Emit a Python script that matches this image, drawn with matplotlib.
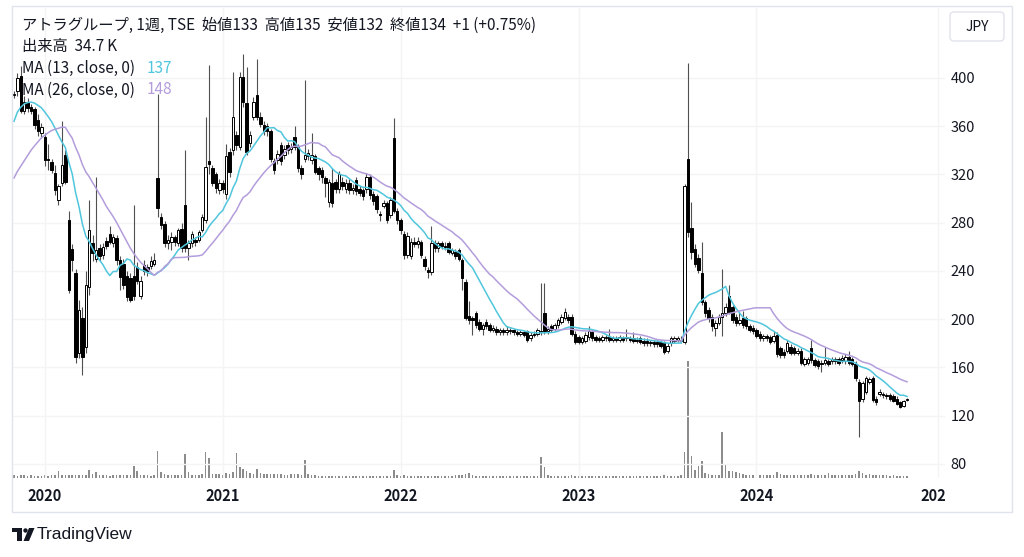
import numpy as np
import pandas as pd
import matplotlib
matplotlib.use('Agg')
import matplotlib.pyplot as plt
import matplotlib.dates as mdates
from matplotlib.patches import Rectangle, FancyBboxPatch, Circle, Polygon
from matplotlib.transforms import IdentityTransform, Bbox, TransformedBbox

plt.rcParams['font.family'] = ['Noto Sans CJK JP', 'DejaVu Sans']

W, H = 1024, 557

# weekly candles, 2019-11-04 .. 2024-11-04
opens = [
    386, 389, 402, 373, 380, 376, 374, 365, 354, 351,
    333, 330, 321, 299, 313, 336, 282, 258, 238, 172,
    201, 177, 227, 263, 250, 259, 253, 265, 271, 263,
    267, 249, 246, 236, 234, 236, 243, 219, 245, 243,
    244, 246, 317, 285, 279, 263, 264, 268, 263, 275,
    295, 259, 263, 266, 266, 274, 282, 331, 325, 320,
    307, 313, 304, 339, 340, 353, 343, 401, 379, 346,
    368, 386, 368, 361, 360, 356, 331, 332, 344, 336,
    344, 341, 351, 343, 325, 333, 335, 332, 335, 325,
    324, 317, 297, 313, 314, 308, 314, 308, 313, 307,
    315, 308, 307, 308, 318, 304, 302, 287, 294, 296,
    286, 350, 290, 282, 271, 253, 252, 264, 262, 264,
    250, 241, 239, 263, 259, 263, 261, 263, 255, 256,
    257, 249, 231, 203, 201, 205, 198, 192, 198, 195,
    191, 192, 189, 191, 189, 191, 191, 189, 188, 189,
    190, 184, 187, 188, 189, 205, 190, 194, 192, 195,
    198, 201, 202, 202, 188, 185, 181, 182, 185, 189,
    185, 184, 183, 184, 185, 183, 184, 183, 184, 184,
    184, 184, 182, 184, 182, 182, 181, 181, 181, 181,
    181, 174, 180, 182, 183, 182, 181, 333, 276, 258,
    251, 238, 214, 208, 202, 193, 197, 202, 205, 219,
    210, 202, 197, 201, 201, 194, 193, 191, 188, 184,
    186, 185, 182, 187, 176, 173, 174, 177, 176, 172,
    174, 163, 164, 176, 166, 165, 164, 164, 165, 165,
    167, 167, 166, 165, 169, 167, 163, 148, 134, 140,
    148, 151, 134, 138, 138, 137, 137, 136, 134, 131,
    128, 133,
]
highs = [
    389, 404, 410, 385, 383, 378, 376, 370, 363, 354,
    345, 333, 328, 312, 364, 340, 290, 262, 242, 216,
    210, 240, 299, 270, 318, 262, 263, 268, 277, 271,
    270, 252, 250, 240, 238, 295, 247, 236, 249, 246,
    252, 255, 387, 288, 281, 270, 272, 270, 276, 280,
    340, 266, 273, 268, 274, 287, 368, 411, 328, 322,
    316, 315, 345, 342, 405, 356, 405, 420, 409, 356,
    384, 416, 372, 364, 363, 358, 334, 340, 347, 344,
    347, 346, 360, 345, 328, 398, 341, 354, 337, 327,
    326, 319, 316, 325, 316, 323, 318, 316, 316, 312,
    318, 310, 309, 321, 320, 306, 304, 290, 299, 298,
    301, 367, 292, 284, 273, 272, 267, 268, 268, 266,
    252, 243, 277, 266, 265, 265, 264, 265, 259, 258,
    259, 251, 233, 215, 203, 207, 200, 197, 200, 197,
    195, 194, 193, 193, 194, 193, 192, 191, 191, 190,
    191, 189, 190, 193, 230, 230, 194, 196, 197, 201,
    204, 209, 204, 204, 190, 187, 186, 189, 194, 191,
    187, 186, 187, 187, 192, 186, 186, 187, 186, 192,
    186, 189, 185, 186, 184, 184, 183, 183, 183, 183,
    182, 180, 186, 186, 186, 186, 312, 412, 297, 262,
    254, 264, 216, 210, 204, 199, 204, 242, 213, 228,
    212, 204, 206, 207, 203, 196, 195, 193, 190, 188,
    188, 187, 190, 189, 178, 175, 183, 179, 178, 176,
    176, 169, 169, 183, 168, 167, 166, 177, 167, 169,
    169, 169, 170, 171, 174, 169, 165, 150, 149, 153,
    152, 153, 136, 142, 140, 139, 139, 138, 136, 132,
    133, 135,
]
lows = [
    383, 385, 371, 370, 372, 370, 358, 352, 350, 327,
    324, 321, 303, 295, 310, 312, 222, 240, 164, 168,
    154, 172, 220, 248, 247, 248, 250, 258, 262, 260,
    245, 224, 225, 215, 214, 216, 229, 217, 237, 236,
    242, 244, 285, 275, 260, 258, 257, 261, 261, 256,
    256, 249, 260, 261, 264, 272, 280, 320, 310, 305,
    304, 305, 300, 318, 336, 340, 340, 376, 336, 343,
    365, 365, 359, 353, 352, 330, 320, 329, 328, 333,
    337, 338, 340, 322, 316, 330, 332, 329, 320, 315,
    313, 301, 293, 293, 305, 305, 307, 305, 304, 304,
    303, 302, 299, 305, 300, 295, 288, 281, 292, 280,
    284, 288, 279, 271, 250, 251, 250, 260, 259, 251,
    241, 234, 237, 256, 256, 258, 257, 254, 253, 250,
    248, 224, 199, 196, 187, 193, 190, 187, 192, 189,
    189, 187, 187, 187, 187, 188, 187, 186, 186, 185,
    181, 182, 185, 186, 187, 188, 188, 189, 190, 193,
    196, 199, 197, 186, 179, 179, 179, 180, 183, 182,
    181, 181, 181, 182, 181, 181, 181, 181, 181, 182,
    181, 180, 180, 179, 178, 178, 178, 177, 177, 176,
    171, 172, 178, 180, 181, 180, 179, 268, 250, 243,
    238, 212, 202, 198, 190, 186, 195, 186, 203, 204,
    197, 194, 195, 193, 192, 189, 188, 184, 182, 182,
    182, 179, 180, 169, 168, 168, 172, 170, 170, 170,
    162, 161, 162, 164, 160, 159, 156, 162, 161, 163,
    163, 162, 164, 163, 162, 161, 149, 102, 131, 138,
    146, 131, 129, 136, 135, 134, 132, 131, 129, 126,
    127, 132,
]
closes = [
    386, 400, 373, 380, 375, 373, 361, 356, 359, 332,
    332, 324, 307, 310, 328, 314, 224, 249, 169, 208,
    169, 228, 274, 255, 257, 252, 260, 261, 264, 268,
    249, 235, 228, 218, 216, 219, 232, 232, 240, 240,
    248, 249, 292, 278, 263, 266, 268, 264, 274, 259,
    259, 263, 271, 264, 272, 285, 326, 329, 313, 309,
    313, 308, 335, 322, 368, 344, 401, 380, 339, 353,
    380, 368, 362, 356, 356, 333, 324, 337, 331, 341,
    340, 343, 343, 325, 320, 336, 338, 336, 322, 320,
    318, 313, 314, 296, 308, 320, 310, 313, 307, 309,
    306, 305, 302, 318, 303, 298, 291, 286, 296, 282,
    299, 290, 282, 274, 253, 269, 264, 262, 265, 253,
    244, 239, 263, 259, 263, 261, 260, 256, 257, 252,
    250, 234, 201, 199, 199, 195, 192, 195, 194, 191,
    193, 189, 191, 189, 191, 190, 189, 188, 189, 187,
    183, 187, 188, 191, 190, 190, 192, 191, 195, 199,
    202, 206, 199, 188, 181, 181, 184, 187, 190, 184,
    183, 183, 185, 185, 183, 184, 183, 185, 183, 185,
    183, 182, 183, 181, 180, 180, 180, 179, 179, 178,
    173, 178, 184, 184, 184, 183, 310, 272, 256, 246,
    241, 214, 205, 201, 194, 197, 202, 205, 210, 206,
    199, 197, 199, 195, 194, 191, 190, 186, 184, 186,
    184, 181, 186, 171, 170, 170, 180, 172, 172, 174,
    164, 167, 167, 166, 162, 161, 163, 166, 163, 167,
    165, 164, 168, 169, 164, 163, 151, 132, 147, 151,
    150, 133, 131, 140, 137, 136, 134, 132, 130, 127,
    132, 134,
]
# volume in thousands of shares
volumes = [
    62, 55, 68, 58, 52, 60, 55, 50, 52, 58, 55, 60, 66,
    160, 70, 68, 75, 80, 72, 66, 70, 75, 185, 90, 140, 70,
    62, 58, 55, 60, 58, 62, 66, 60, 70, 280, 160, 75, 62,
    58, 55, 60, 620, 150, 90, 70, 65, 60, 62, 70, 550, 140,
    80, 70, 72, 95, 600, 460, 100, 90, 85, 80, 110, 95, 130,
    575, 250, 210, 160, 120, 100, 210, 110, 95, 90, 88, 95, 90,
    85, 80, 78, 82, 90, 85, 80, 415, 95, 70, 60, 55, 50,
    52, 48, 50, 55, 50, 48, 45, 50, 48, 46, 45, 48, 50,
    46, 50, 48, 45, 44, 46, 50, 185, 70, 50, 60, 52, 48,
    46, 45, 50, 48, 55, 48, 45, 44, 42, 45, 44, 46, 60,
    58, 70, 90, 115, 60, 55, 50, 48, 46, 45, 44, 42, 45,
    44, 42, 40, 42, 44, 40, 42, 45, 42, 40, 42, 485, 250,
    70, 55, 50, 48, 52, 55, 50, 60, 55, 48, 45, 44, 46,
    42, 40, 44, 42, 40, 38, 42, 40, 38, 40, 42, 40, 38,
    40, 42, 38, 40, 45, 42, 40, 44, 60, 55, 50, 48, 52,
    70, 600, 2700, 510, 185, 280, 390, 115, 90, 80, 75, 70, 1060,
    300, 160, 160, 130, 115, 90, 80, 75, 70, 68, 72, 65, 70,
    65, 70, 140, 90, 75, 68, 65, 70, 62, 80, 70, 65, 95,
    60, 58, 62, 60, 115, 70, 62, 58, 60, 65, 58, 70, 90,
    160, 110, 80, 90, 70, 65, 60, 62, 58, 55, 60, 52, 50, 48, 34.7,
]
# closes of the 25 weeks before the window (feed the moving averages)
pre_closes = [255, 258, 262, 260, 265, 268, 270, 272, 275, 278, 276, 280, 291,
              300, 320, 345, 360, 368, 372, 380, 385, 378, 382, 378, 378]

price_ticks = [80, 120, 160, 200, 240, 280, 320, 360, 400]
year_labels = ['2020', '2021', '2022', '2023', '2024', '2025']
year_dates = ['2020-01-06', '2021-01-04', '2022-01-03', '2023-01-02', '2024-01-01', '2025-01-06']

dates = pd.date_range('2019-11-04', periods=len(closes), freq='W-MON')
df = pd.DataFrame({'open': opens, 'high': highs, 'low': lows,
                   'close': closes, 'volume': volumes}, index=dates)

all_close = pd.Series(pre_closes + closes, dtype=float)
ma13 = all_close.rolling(13).mean().iloc[len(pre_closes):].values
ma26 = all_close.rolling(26).mean().iloc[len(pre_closes):].values

fig = plt.figure(figsize=(W / 100, H / 100), dpi=100)
fig.patch.set_facecolor('white')

ax = fig.add_axes([12 / W, (H - 478) / H, 933 / W, 470 / H])
axv = ax.twinx()
ax.set_zorder(axv.get_zorder() + 1)
ax.patch.set_visible(False)

x = mdates.date2num(dates)
ax.set_xlim(x[0] - 0.58 * 7, x[0] + 272.1 * 7)
ax.set_ylim(68.3, 458)

o = df['open'].values
c = df['close'].values
up = c >= o
body_lo = np.minimum(o, c)
body_h = np.maximum(np.abs(c - o), 0.9)

ax.vlines(x, df['low'], df['high'], color='#505050', lw=0.8, zorder=2)
ax.bar(x[up], body_h[up], bottom=body_lo[up], width=5, color='white',
       edgecolor='black', lw=0.7, zorder=3)
ax.bar(x[~up], body_h[~up], bottom=body_lo[~up], width=5, color='black',
       edgecolor='black', lw=0.7, zorder=3)

ax.plot(x, ma13, color='#4fc6dc', lw=1.1, zorder=4)
ax.plot(x, ma26, color='#b39ddb', lw=1.1, zorder=4)

axv.bar(x, df['volume'], width=3.2, color='#8c8c8c', zorder=1)
axv.set_ylim(0, 10850)
axv.set_yticks([])
axv.tick_params(right=False, labelright=False)

# grid
ax.set_yticks(price_ticks)
ax.yaxis.tick_right()
ax.tick_params(axis='y', length=0, pad=4, labelsize=10.5, labelcolor='#131722')
yd = mdates.date2num(pd.to_datetime(year_dates))
ax.set_xticks(yd)
ax.set_xticklabels([])
ax.tick_params(axis='x', length=0)
ax.grid(True, color='#f3f4f6', lw=1, zorder=0)
for a in (ax, axv):
    for s in a.spines.values():
        s.set_visible(False)

clip = TransformedBbox(Bbox([[0, 0], [945 / W, 1]]), fig.transFigure)
for d, lab in zip(yd, year_labels):
    t = ax.text(d, -0.038, lab, transform=ax.get_xaxis_transform(), ha='center',
                va='center', fontsize=10.5, fontweight='bold', color='#131722',
                clip_on=True)
    t.set_clip_box(clip)

# legend block
def fx(px):
    return px / W

def fy(py):
    return 1 - py / H

txt = '#131722'
fs = 11
fig.text(fx(22), fy(25), 'アトラグループ, 1週, TSE  始値133  高値135  安値132  終値134  +1 (+0.75%)',
         fontsize=fs, color=txt, va='center')
fig.text(fx(22), fy(46), '出来高  34.7\u2009K', fontsize=fs, color=txt, va='center')
fig.text(fx(22), fy(68), 'MA (13, close, 0)', fontsize=fs, color=txt, va='center')
fig.text(fx(147), fy(68), '137', fontsize=fs, color='#4fc6dc', va='center')
fig.text(fx(22), fy(90), 'MA (26, close, 0)', fontsize=fs, color=txt, va='center')
fig.text(fx(147), fy(90), '148', fontsize=fs, color='#b39ddb', va='center')

ident = IdentityTransform()
fig.patches.append(Rectangle((12, H - 512), 1000, 506, transform=ident,
                             fill=False, edgecolor='#e0e3eb', lw=1))
fig.patches.append(FancyBboxPatch((950, H - 41), 54, 29, transform=ident,
                                  boxstyle='round,pad=0,rounding_size=4',
                                  facecolor='white', edgecolor='#e0e3eb', lw=1))
fig.text(fx(977), fy(27), 'JPY', fontsize=10, color=txt, ha='center', va='center')

# TradingView mark
logo = '#131722'
fig.patches.append(Polygon([(12, H - 528), (22, H - 528), (22, H - 541), (17, H - 541),
                            (17, H - 532), (12, H - 532)], closed=True,
                           transform=ident, facecolor=logo, edgecolor='none'))
fig.patches.append(Circle((25.5, H - 530.5), 2.2, transform=ident,
                          facecolor=logo, edgecolor='none'))
fig.patches.append(Polygon([(29, H - 528), (34.5, H - 528), (29, H - 541), (23.5, H - 541)],
                           closed=True, transform=ident, facecolor=logo, edgecolor='none'))
fig.text(fx(37), fy(535), 'TradingView', fontsize=12.5, color=logo, va='center',
         family='Liberation Sans')

fig.savefig('out.png', dpi=100, facecolor='white')
